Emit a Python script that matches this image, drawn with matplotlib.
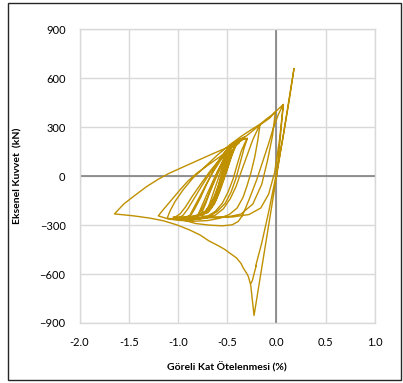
import matplotlib
matplotlib.use("Agg")
import matplotlib.pyplot as plt
from matplotlib.patches import Rectangle

plt.rcParams['font.family'] = ['Lato', 'DejaVu Sans']

# drift (%), axial force (kN), cycle by cycle
start = [(0.00, 0), (0.03, 180), (0.069, 440), (0.03, 220), (-0.02, 20),
         (-0.08, -110), (-0.16, -195), (-0.28, -235), (-0.45, -250),
         (-0.65, -250), (-0.80, -240)]

loop_f = [(-0.72, -228), (-0.66, -195), (-0.61, -140), (-0.57, -70),
          (-0.53, 0), (-0.50, 60), (-0.47, 120), (-0.45, 160),
          (-0.49, 140), (-0.54, 95), (-0.60, 30), (-0.66, -50),
          (-0.72, -130), (-0.77, -200), (-0.80, -240), (-0.85, -248)]

core1 = [(-0.78, -235), (-0.72, -215), (-0.67, -175), (-0.63, -120),
         (-0.59, -55), (-0.56, 10), (-0.53, 70), (-0.50, 120), (-0.47, 150),
         (-0.51, 125), (-0.55, 75), (-0.60, 10), (-0.65, -60), (-0.70, -130),
         (-0.75, -195), (-0.79, -235)]

core2 = [(-0.74, -230), (-0.69, -205), (-0.65, -160), (-0.61, -100),
         (-0.58, -40), (-0.55, 20), (-0.52, 80), (-0.49, 130), (-0.46, 170),
         (-0.44, 185), (-0.48, 165), (-0.53, 115), (-0.58, 50), (-0.63, -20),
         (-0.68, -100), (-0.72, -170), (-0.76, -225)]

core3 = [(-0.70, -225), (-0.66, -195), (-0.62, -140), (-0.59, -80),
         (-0.56, -20), (-0.53, 40), (-0.50, 100), (-0.48, 130), (-0.52, 100),
         (-0.56, 40), (-0.60, -30), (-0.64, -100), (-0.68, -170),
         (-0.72, -225)]

core4 = [(-0.88, -250), (-0.80, -242), (-0.73, -218), (-0.67, -175),
         (-0.62, -115), (-0.58, -50), (-0.54, 15), (-0.50, 85), (-0.46, 145),
         (-0.42, 185), (-0.38, 205), (-0.43, 190), (-0.50, 150), (-0.57, 95),
         (-0.64, 30), (-0.71, -45), (-0.78, -125), (-0.84, -195),
         (-0.88, -240), (-0.92, -255)]

loop_e = [(-0.76, -238), (-0.69, -215), (-0.63, -170), (-0.58, -100),
          (-0.54, -30), (-0.50, 40), (-0.47, 100), (-0.44, 150), (-0.42, 202),
          (-0.47, 185), (-0.53, 145), (-0.59, 90), (-0.65, 25), (-0.71, -50),
          (-0.77, -130), (-0.83, -200), (-0.87, -240), (-0.95, -255)]

loop_d = [(-0.85, -252), (-0.76, -236), (-0.68, -200), (-0.62, -145),
          (-0.57, -75), (-0.53, -5), (-0.49, 65), (-0.45, 135), (-0.41, 188),
          (-0.36, 222), (-0.32, 242), (-0.37, 228), (-0.44, 200), (-0.52, 150),
          (-0.60, 85), (-0.68, 15), (-0.76, -60), (-0.84, -140), (-0.90, -200),
          (-0.95, -240), (-1.00, -258)]

loop_g = [(-0.90, -262), (-0.80, -258), (-0.70, -245), (-0.62, -215),
          (-0.55, -165), (-0.49, -95), (-0.44, -15), (-0.40, 70), (-0.36, 150),
          (-0.32, 205), (-0.295, 233), (-0.34, 225), (-0.42, 195),
          (-0.50, 152), (-0.58, 100), (-0.67, 35), (-0.76, -40), (-0.85, -118),
          (-0.92, -185), (-0.98, -232), (-1.05, -258)]

loop_a = [(-0.95, -265), (-0.85, -266), (-0.72, -258), (-0.62, -238),
          (-0.54, -200), (-0.47, -138), (-0.41, -62), (-0.36, 25),
          (-0.30, 125), (-0.24, 225), (-0.167, 319), (-0.25, 288),
          (-0.35, 248), (-0.47, 195), (-0.60, 130), (-0.72, 62), (-0.85, -12),
          (-0.95, -85), (-1.03, -155), (-1.08, -212), (-1.11, -258)]

loop_b = [(-1.02, -262), (-0.90, -268), (-0.78, -262), (-0.68, -245),
          (-0.60, -215), (-0.52, -165), (-0.46, -95), (-0.41, -10),
          (-0.37, 80), (-0.33, 170), (-0.30, 225), (-0.337, 232),
          (-0.45, 178), (-0.574, 120), (-0.70, 66), (-0.81, 18), (-0.90, -30),
          (-0.98, -84), (-1.08, -155), (-1.15, -205), (-1.20, -243)]

loop_h = [(-1.10, -262), (-1.00, -270), (-0.85, -276), (-0.70, -272),
          (-0.58, -258), (-0.48, -235), (-0.40, -195), (-0.34, -130),
          (-0.30, -60), (-0.26, 20), (-0.22, 120), (-0.19, 220),
          (-0.167, 319), (-0.10, 352), (-0.05, 374), (-0.012, 395),
          (-0.04, 250), (-0.09, 100), (-0.15, -50), (-0.24, -170),
          (-0.36, -232), (-0.52, -252), (-0.70, -255), (-0.90, -250),
          (-1.05, -250)]

# wide loop with flat bottom, rising to the small positive tip
loop_c = [(-0.95, -268), (-0.82, -290), (-0.68, -300), (-0.55, -304),
          (-0.45, -298), (-0.39, -278), (-0.35, -245), (-0.31, -190),
          (-0.26, -115), (-0.20, -20), (-0.14, 90), (-0.08, 200),
          (-0.03, 300), (0.02, 380), (0.069, 440), (-0.012, 395)]

# big outer loop: upper branch to the far left, lower branch to the spike
outer_up = [(-0.07, 356), (-0.17, 314), (-0.30, 250), (-0.44, 191),
            (-0.64, 140), (-0.80, 97), (-0.98, 48), (-1.10, 15), (-1.20, -18),
            (-1.32, -64), (-1.45, -123), (-1.55, -170), (-1.645, -231)]

outer_low = [(-1.45, -243), (-1.284, -257), (-1.15, -273), (-1.013, -298),
             (-0.88, -330), (-0.777, -360), (-0.69, -395), (-0.607, -421),
             (-0.53, -447), (-0.472, -472), (-0.404, -502), (-0.36, -535),
             (-0.337, -563), (-0.30, -598), (-0.286, -615), (-0.262, -666),
             (-0.228, -854), (0.178, 661)]

# unloading from the peak, with the small jog near -550 kN
finish = [(0.13, 470), (0.07, 250), (0.00, 20), (-0.08, -220),
          (-0.15, -410), (-0.195, -515), (-0.205, -540), (-0.212, -552),
          (-0.205, -548), (-0.22, -580), (-0.245, -640), (-0.258, -655)]

cycles = [start, loop_f, core1, core2, core3, core4, loop_e, loop_d, loop_g,
          loop_a, loop_b, loop_h, loop_c, outer_up, outer_low, finish]

drift = [p[0] for c in cycles for p in c]
force = [p[1] for c in cycles for p in c]

x_ticks = [-2.0, -1.5, -1.0, -0.5, 0.0, 0.5, 1.0]
y_ticks = [-900, -600, -300, 0, 300, 600, 900]

fig = plt.figure(figsize=(4.03, 3.83), dpi=100)
ax = fig.add_axes([0.1973, 0.1567, 0.7332, 0.7663])

ax.set_xlim(-2.0, 1.0)
ax.set_ylim(-900, 900)
ax.set_xticks(x_ticks)
ax.set_yticks(y_ticks)
ax.set_xticklabels(['%.1f' % v for v in x_ticks])
ax.grid(True, color='#D9D9D9', linewidth=1.0)
ax.set_axisbelow(True)
for s in ax.spines.values():
    s.set_color('#D9D9D9')
    s.set_linewidth(1.0)
ax.tick_params(length=0, labelsize=8, colors='#000000')
ax.tick_params(axis='x', pad=10)
ax.tick_params(axis='y', pad=10)

ax.axhline(0, color='#808080', linewidth=1.2, zorder=1)
ax.axvline(0, color='#808080', linewidth=1.2, zorder=1)

ax.plot(drift, force, color='#BF9000', linewidth=1.0, zorder=3)

ax.set_xlabel('Göreli Kat Ötelenmesi (%)', fontsize=7.5, fontweight='bold',
              labelpad=10)
ax.set_ylabel('Eksenel Kuvvet  (kN)', fontsize=7.5, fontweight='bold',
              labelpad=12)

# outer frame
fig.patches.append(Rectangle((8 / 403, 3 / 383), 393 / 403, 377 / 383,
                             transform=fig.transFigure, fill=False,
                             edgecolor='#262626', linewidth=1.0))

fig.savefig('out.png', dpi=100)
